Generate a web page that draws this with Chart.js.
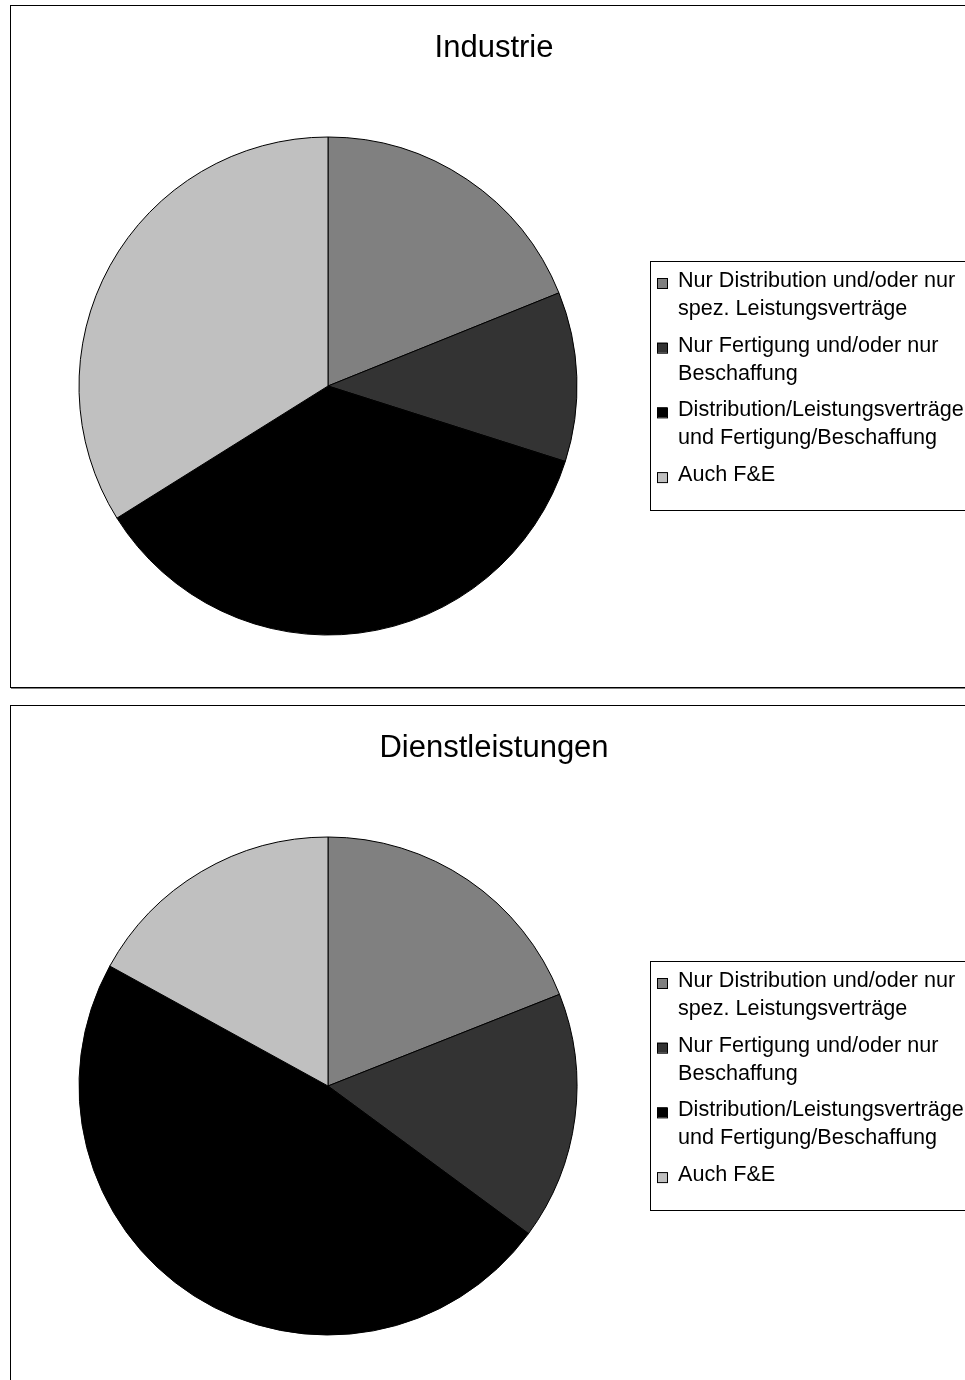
<!DOCTYPE html>
<html lang="de">
<head>
    <meta charset="UTF-8">
    <title>Industrie / Dienstleistungen</title>
    <script src="https://cdn.jsdelivr.net/npm/chart.js"></script>
    <style>
        html, body {
            margin: 0;
            padding: 0;
            background: #fff;
            overflow: hidden;
        }
        .panel {
            position: absolute;
            left: 10px;
            width: 1000px;
            height: 681px;
            border: 1px solid #000;
            box-shadow: 1px 1px 0 #808080;
            background: #fff;
        }
        .panel canvas {
            display: block;
        }
    </style>
</head>
<body>
    <div class="panel" style="top:5px;"><canvas id="chartIndustrie" width="980" height="681"></canvas></div>
    <div class="panel" style="top:705px;"><canvas id="chartDienst" width="980" height="681"></canvas></div>

    <script>
        // Kategorien (Legende, mehrzeilig)
        const categories = [
            ['Nur Distribution und/oder nur', 'spez. Leistungsverträge'],
            ['Nur Fertigung und/oder nur', 'Beschaffung'],
            ['Distribution/Leistungsverträge', 'und Fertigung/Beschaffung'],
            ['Auch F&E']
        ];
        // Anteile in %, aus dem Bild geschätzt
        const industrieValues = [18.9, 11.0, 36.2, 33.9];
        const dienstValues = [19.0, 16.1, 47.9, 17.0];
        const sliceColors = ['#808080', '#333333', '#000000', '#C0C0C0'];

        const FONT = "'Liberation Sans', Arial, sans-serif";

        // Titel + Legende im Excel-Stil
        const decorPlugin = {
            id: 'decor',
            afterDraw(chart, args, opts) {
                const ctx = chart.ctx;
                ctx.save();
                ctx.fillStyle = '#000';
                ctx.font = '31px ' + FONT;
                ctx.textAlign = 'center';
                ctx.textBaseline = 'alphabetic';
                ctx.fillText(opts.title, 483, 51);

                // Legendenrahmen
                ctx.strokeStyle = '#000';
                ctx.lineWidth = 1;
                ctx.strokeRect(639.5, 255.5, 400, 249);

                ctx.font = '21.6px ' + FONT;
                ctx.textAlign = 'left';
                const labels = chart.data.labels;
                const colors = chart.data.datasets[0].backgroundColor;
                let y = 281;
                labels.forEach((lines, i) => {
                    ctx.fillStyle = colors[i];
                    ctx.fillRect(646, y - 9, 10, 10);
                    ctx.strokeStyle = '#000';
                    ctx.strokeRect(646.5, y - 8.5, 10, 10);
                    ctx.fillStyle = '#000';
                    lines.forEach((line, j) => {
                        ctx.fillText(line, 667, y + j * 28);
                    });
                    y += 64.7;
                });
                ctx.restore();
            }
        };

        function createPie(id, title, values) {
            const ctx = document.getElementById(id).getContext('2d');
            return new Chart(ctx, {
                type: 'pie',
                data: {
                    labels: categories,
                    datasets: [{
                        data: values,
                        backgroundColor: sliceColors,
                        borderColor: '#000',
                        borderWidth: 1,
                        radius: 249
                    }]
                },
                options: {
                    responsive: false,
                    animation: false,
                    devicePixelRatio: 1,
                    layout: {
                        padding: { left: 0, right: 346, top: 79, bottom: 0 }
                    },
                    plugins: {
                        legend: { display: false },
                        tooltip: { enabled: false },
                        decor: { title: title }
                    }
                },
                plugins: [decorPlugin]
            });
        }

        createPie('chartIndustrie', 'Industrie', industrieValues);
        createPie('chartDienst', 'Dienstleistungen', dienstValues);
    </script>
</body>
</html>
